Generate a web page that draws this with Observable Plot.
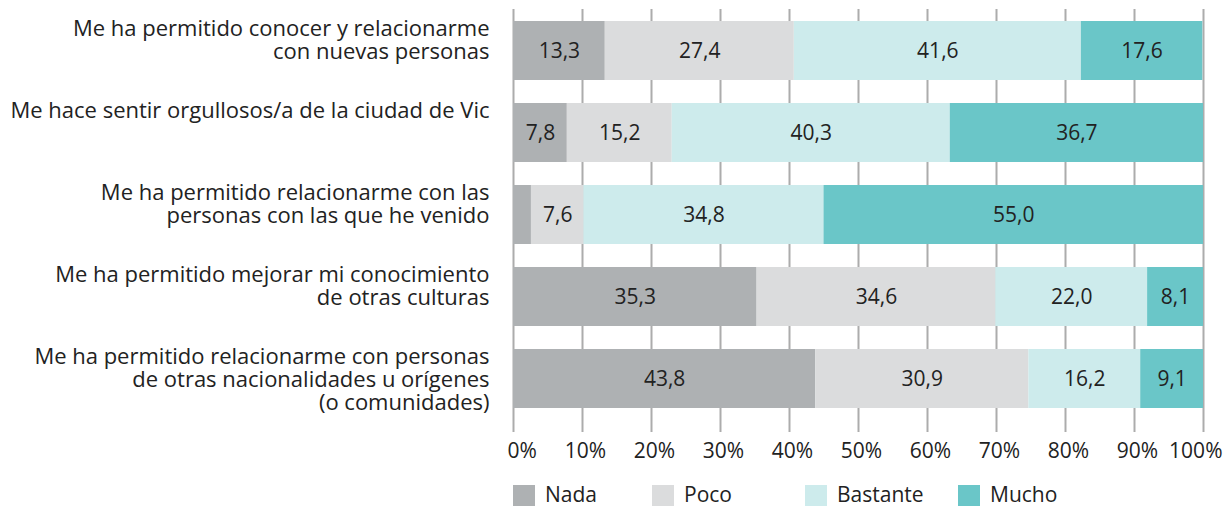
<!DOCTYPE html>
<html>
<head>
<meta charset="utf-8">
<script src="https://cdn.jsdelivr.net/npm/d3@7"></script>
<script src="https://cdn.jsdelivr.net/npm/@observablehq/plot@0.6"></script>
<style>
  html, body { margin: 0; padding: 0; background: #fff; }
  body { width: 1224px; height: 506px; overflow: hidden; font-family: "Open Sans", sans-serif; color: #222; }
  #legend { display: flex; margin-left: 513px; height: 31px; align-items: flex-start; font-size: 21px; line-height: 1; }
  #legend .item { display: flex; align-items: flex-start; }
  #legend .sw { width: 22px; height: 21px; margin-right: 10px; margin-top: 10px; }
  #legend .lab { margin-top: 9px; }
</style>
</head>
<body>
<div id="chart"></div>
<div id="legend"></div>
<script>
const categories = [
  "Me ha permitido conocer y relacionarme\ncon nuevas personas",
  "Me hace sentir orgullosos/a de la ciudad de Vic",
  "Me ha permitido relacionarme con las\npersonas con las que he venido",
  "Me ha permitido mejorar mi conocimiento\nde otras culturas",
  "Me ha permitido relacionarme con personas\nde otras nacionalidades u orígenes\n(o comunidades)"
];
const series = ["Nada", "Poco", "Bastante", "Mucho"];
const nada     = [13.3, 7.8, 2.6, 35.3, 43.8];
const poco     = [27.4, 15.2, 7.6, 34.6, 30.9];
const bastante = [41.6, 40.3, 34.8, 22.0, 16.2];
const mucho    = [17.6, 36.7, 55.0, 8.1, 9.1];
const xTicks = [0, 10, 20, 30, 40, 50, 60, 70, 80, 90, 100];
const colors = ["#aeb1b3", "#dbdcdd", "#cdebec", "#6ac6c8"];

const seriesValues = [nada, poco, bastante, mucho];
const data = categories.flatMap((c, i) =>
  series.map((s, j) => ({cat: c, serie: s, value: seriesValues[j][i]}))
);
const fmt = v => v.toFixed(1).replace(".", ",");
const pct = d => d + "%";

const chart = Plot.plot({
  width: 1224,
  height: 475,
  marginLeft: 513,
  marginRight: 21,
  marginTop: 9,
  marginBottom: 54,
  style: {fontFamily: "'Open Sans', sans-serif", fontSize: "21px", color: "#222", background: "#fff"},
  x: {domain: [0, 100], axis: null},
  y: {domain: categories, axis: null, paddingInner: 0.28, paddingOuter: 0.14},
  color: {domain: series, range: colors},
  marks: [
    Plot.ruleX(xTicks, {x: d => d, stroke: "#acacac", strokeWidth: 2}),
    Plot.barX(data, Plot.stackX({x: "value", y: "cat", fill: "serie"})),
    Plot.text(data, Plot.stackX({
      x: "value", y: "cat", z: "serie",
      text: d => d.value >= 5 ? fmt(d.value) : "",
      fill: "#222", fontSize: 21
    })),
    Plot.text(categories, {
      y: d => d, frameAnchor: "left", textAnchor: "end", dx: -24,
      lineAnchor: "top", dy: -31, lineHeight: 1.045, fill: "#222", fontSize: 22
    }),
    Plot.axisX(xTicks, {
      tickSize: 11, stroke: "#acacac", strokeWidth: 2,
      tickFormat: () => "", label: null
    }),
    Plot.text(xTicks.filter(d => d > 0 && d < 100), {
      x: d => d, text: pct, frameAnchor: "bottom", lineAnchor: "top",
      dy: 22, dx: 3, fill: "#222", fontSize: 21
    }),
    Plot.text(xTicks.filter(d => d === 0), {
      x: d => d, text: pct, frameAnchor: "bottom", lineAnchor: "top",
      textAnchor: "start", dy: 22, dx: -6, fill: "#222", fontSize: 21
    }),
    Plot.text(xTicks.filter(d => d === 100), {
      x: d => d, text: pct, frameAnchor: "bottom", lineAnchor: "top",
      textAnchor: "end", dy: 22, dx: 19, fill: "#222", fontSize: 21
    })
  ]
});
document.getElementById("chart").appendChild(chart);

const legend = document.getElementById("legend");
const itemWidths = [139, 153, 153, 150];
series.forEach((s, i) => {
  const item = document.createElement("div");
  item.className = "item";
  item.style.width = itemWidths[i] + "px";
  const sw = document.createElement("div");
  sw.className = "sw";
  sw.style.background = colors[i];
  const lab = document.createElement("span");
  lab.className = "lab";
  lab.textContent = s;
  item.appendChild(sw);
  item.appendChild(lab);
  legend.appendChild(item);
});
</script>
</body>
</html>
